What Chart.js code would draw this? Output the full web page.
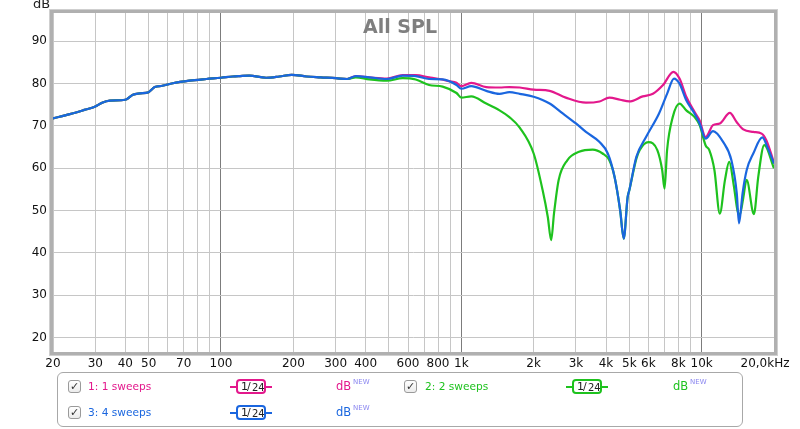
<!DOCTYPE html>
<html>
<head>
<meta charset="utf-8">
<script src="https://cdn.jsdelivr.net/npm/chart.js@4.4.1/dist/chart.umd.min.js"></script>
<style>
html,body{margin:0;padding:0;background:#fff;}
#wrap{position:relative;width:800px;height:429px;overflow:hidden;font-family:"DejaVu Sans",sans-serif;}
#c{position:absolute;left:0;top:0;}
.legend{position:absolute;left:57px;top:372px;width:686px;height:55px;border:1px solid #a8a8a8;border-radius:6px;box-sizing:border-box;}
.cb{position:absolute;width:13px;height:13px;border:1px solid #9a9a9a;border-radius:3px;box-sizing:border-box;background:linear-gradient(#ffffff,#ececec);font-size:11px;line-height:11px;text-align:center;color:#333;}
.lbl{position:absolute;font-size:10.6px;line-height:14px;white-space:nowrap;}
.flt{position:absolute;height:15px;width:30px;border:2px solid;border-radius:4px;box-sizing:border-box;font-size:11px;color:#222;white-space:nowrap;}
.flt .a{position:absolute;left:3px;top:-1px;font-size:11px;}
.flt .s{position:absolute;left:9px;top:-1px;font-size:11px;}
.flt .b{position:absolute;left:14px;top:1px;font-size:10px;}
.dash{position:absolute;height:2px;width:6px;}
.db{position:absolute;font-size:11.5px;line-height:14px;}
.new{position:absolute;font-size:7px;line-height:8px;color:#8a86f0;}
</style>
</head>
<body>
<div id="wrap">
<canvas id="c" width="800" height="429"></canvas>
<div class="legend"></div>
<div id="leg"></div>
</div>
<script>
// ---- axis ticks ----
const tickFreqs = [20,30,40,50,60,70,80,90,100,200,300,400,500,600,700,800,900,1000,2000,3000,4000,5000,6000,7000,8000,9000,10000,20000];
const tickLabels = ['20','30','40','50','','70','','','100','200','300','400','','600','','800','','1k','2k','3k','4k','5k','6k','','8k','','10k','20,0kHz\u2002\u2002\u2002'];
const majorFreqs = [100,1000,10000];
const dbTicks = [20,30,40,50,60,70,80,90];

// ---- shared low-frequency part (all three measurements identical) ----
const lowFreqs = [20,23.5,27,30,32,34.5,40,43,46,50,53,57,63,74,87,100,112,120,131,154,175,197,227,260,301,335];
const lowSpl   = [71.8,72.8,73.8,74.6,75.5,76.0,76.2,77.4,77.7,78.0,79.2,79.5,80.1,80.7,81.1,81.4,81.7,81.8,81.9,81.4,81.7,82.1,81.7,81.5,81.3,81.1];

// ---- 1: 1 sweeps (magenta) ----
const freqs1 = [364,414,490,570,646,734,811,888,955,1000,1100,1270,1442,1585,1750,2000,2330,2720,3300,3760,4130,4580,5000,5686,6270,6890,7630,8090,8630,9350,9810,10390,11150,11900,13100,14000,14900,16400,17760,18600,20000];
const spl1   = [81.8,81.5,81.2,82.0,82.0,81.5,81.1,80.6,80.2,79.4,80.2,79.2,79.1,79.2,79.1,78.6,78.3,76.7,75.5,75.8,76.7,76.2,75.8,77.0,77.6,79.6,82.8,81.2,76.9,73.3,71.3,67.4,70.2,70.6,73.1,70.9,69.2,68.6,68.2,66.6,61.3];

// ---- 2: 2 sweeps (green) ----
const freqs2 = [364,414,490,570,646,734,836,955,1000,1100,1270,1442,1585,1750,2000,2180,2290,2365,2430,2540,2760,3090,3520,3870,4130,4340,4580,4740,4920,5000,5350,5520,6000,6540,6850,7010,7180,7580,8090,8630,9350,9810,10390,10760,11300,11900,12500,13020,13600,14100,14400,14900,15380,16500,17200,18220,20000];
const spl2   = [81.5,81.0,80.7,81.3,81.0,79.7,79.3,77.8,76.7,77.0,75.3,73.7,72.1,69.6,63.5,54.8,48.5,43.0,49.3,57.2,61.9,63.9,64.4,63.5,61.9,58.0,50.1,43.4,53.2,54.8,62.3,64.3,66.2,64.3,59.6,55.2,64.3,72.1,75.3,73.7,72.1,70.2,65.4,64.3,59.6,49.3,57.2,61.5,56.0,50.0,49.0,53.0,57.3,49.2,58.0,65.5,60.0];

// ---- 3: 4 sweeps (blue) ----
const freqs3 = [364,414,490,570,646,734,836,955,1000,1100,1270,1442,1585,1750,2000,2330,2650,3000,3300,3760,4070,4340,4580,4740,4920,5000,5350,5870,6640,7180,7670,8090,8630,9350,9810,10390,11150,12300,13300,14000,14300,14800,15400,16400,17880,18900,20000];
const spl3   = [81.8,81.5,81.1,81.9,81.8,81.1,81.0,79.7,78.8,79.4,78.3,77.6,78.0,77.6,76.9,75.3,72.9,70.6,68.6,66.2,63.5,58.0,50.1,43.4,53.2,54.8,62.7,67.4,72.9,77.6,81.2,80.0,76.1,72.9,70.6,67.0,68.8,66.2,61.9,54.1,47.0,54.1,59.6,63.5,67.3,64.6,61.1];

const seriesNames = ['1: 1 sweeps','2: 2 sweeps','3: 4 sweeps'];
const seriesColors = ['#e3188c','#1ec21e','#1a66df'];

function pts(fs, vs){ return fs.map((f,i)=>({x:f,y:vs[i]})); }
const all1 = pts(lowFreqs.concat(freqs1), lowSpl.concat(spl1));
const all2 = pts(lowFreqs.concat(freqs2), lowSpl.concat(spl2));
const all3 = pts(lowFreqs.concat(freqs3), lowSpl.concat(spl3));

const decor = {
  id:'decor',
  beforeDatasetsDraw(chart){
    const ctx = chart.ctx;
    ctx.save();
    ctx.font = 'bold 19px "DejaVu Sans"';
    ctx.fillStyle = '#7f7f7f';
    ctx.textAlign = 'center';
    ctx.textBaseline = 'alphabetic';
    ctx.fillText('All SPL', 400, 33);
    ctx.restore();
  },
  afterDraw(chart){
    const ctx = chart.ctx, a = chart.chartArea;
    ctx.save();
    ctx.strokeStyle = '#b0b0b0';
    ctx.lineWidth = 3;
    ctx.strokeRect(a.left-1.5, a.top-1.5, a.right-a.left+3, a.bottom-a.top+3);
    ctx.strokeStyle = '#cfcfcf';
    ctx.lineWidth = 1;
    ctx.strokeRect(a.left-3.5, a.top-3.5, a.right-a.left+7, a.bottom-a.top+7);
    ctx.font = '13px "DejaVu Sans"';
    ctx.fillStyle = '#222';
    ctx.textAlign = 'left';
    ctx.fillText('dB', 33, 8);
    ctx.restore();
  }
};

const ds = (label, data, color, order) => ({
  label, data, borderColor: color, backgroundColor: color,
  borderWidth: 2.2, pointRadius: 0, fill: false,
  cubicInterpolationMode: 'monotone', order
});

new Chart(document.getElementById('c'), {
  type: 'line',
  data: {
    datasets: [
      ds(seriesNames[2], all3, seriesColors[2], 0),
      ds(seriesNames[1], all2, seriesColors[1], 1),
      ds(seriesNames[0], all1, seriesColors[0], 2)
    ]
  },
  options: {
    responsive: false,
    animation: false,
    layout: { padding: { left: 0, right: 26, top: 13, bottom: 57 } },
    plugins: { legend: { display: false }, tooltip: { enabled: false }, title: { display: false } },
    scales: {
      x: {
        type: 'logarithmic', min: 20, max: 20000,
        afterBuildTicks: s => { s.ticks = tickFreqs.map(v => ({ value: v })); },
        afterFit: s => { s.height = 20; s.paddingLeft = 0; s.paddingRight = 0; },
        ticks: {
          autoSkip: false, maxRotation: 0, minRotation: 0, padding: 5,
          color: '#111', font: { family: 'DejaVu Sans', size: 12 },
          callback: (v, i) => tickLabels[i]
        },
        grid: {
          drawTicks: false, lineWidth: 1,
          color: c => (c.tick && majorFreqs.includes(c.tick.value)) ? '#7c7c7c' : '#c6c6c6'
        },
        border: { display: false }
      },
      y: {
        type: 'linear', min: 16.6, max: 96.7,
        afterBuildTicks: s => { s.ticks = dbTicks.map(v => ({ value: v })); },
        afterFit: s => { s.width = 53; s.paddingTop = 0; s.paddingBottom = 0; },
        ticks: {
          padding: 6, color: '#111', font: { family: 'DejaVu Sans', size: 12 },
          callback: v => String(v)
        },
        grid: { drawTicks: false, lineWidth: 1, color: '#c6c6c6' },
        border: { display: false }
      }
    }
  },
  plugins: [decor]
});

// ---- legend (HTML text) ----
const legRows = [
  { name: seriesNames[0], color: seriesColors[0], cbX: 68, lblX: 88, fltX: 236, dbX: 336, y: 387 },
  { name: seriesNames[2], color: seriesColors[2], cbX: 68, lblX: 88, fltX: 236, dbX: 336, y: 413 },
  { name: seriesNames[1], color: seriesColors[1], cbX: 404, lblX: 425, fltX: 572, dbX: 673, y: 387 }
];
const leg = document.getElementById('leg');
legRows.forEach(r => {
  let h = '';
  h += `<div class="cb" style="left:${r.cbX}px;top:${r.y-7}px">\u2713</div>`;
  h += `<div class="lbl" style="left:${r.lblX}px;top:${r.y-8}px;color:${r.color}">${r.name}</div>`;
  h += `<div class="dash" style="left:${r.fltX-6}px;top:${r.y-1}px;background:${r.color}"></div>`;
  h += `<div class="flt" style="left:${r.fltX}px;top:${r.y-8}px;border-color:${r.color}"><span class="a">1</span><span class="s">/</span><span class="b">24</span></div>`;
  h += `<div class="dash" style="left:${r.fltX+30}px;top:${r.y-1}px;background:${r.color}"></div>`;
  h += `<div class="db" style="left:${r.dbX}px;top:${r.y-8}px;color:${r.color}">dB</div>`;
  h += `<div class="new" style="left:${r.dbX+17}px;top:${r.y-9}px">NEW</div>`;
  leg.insertAdjacentHTML('beforeend', h);
});
</script>
</body>
</html>
